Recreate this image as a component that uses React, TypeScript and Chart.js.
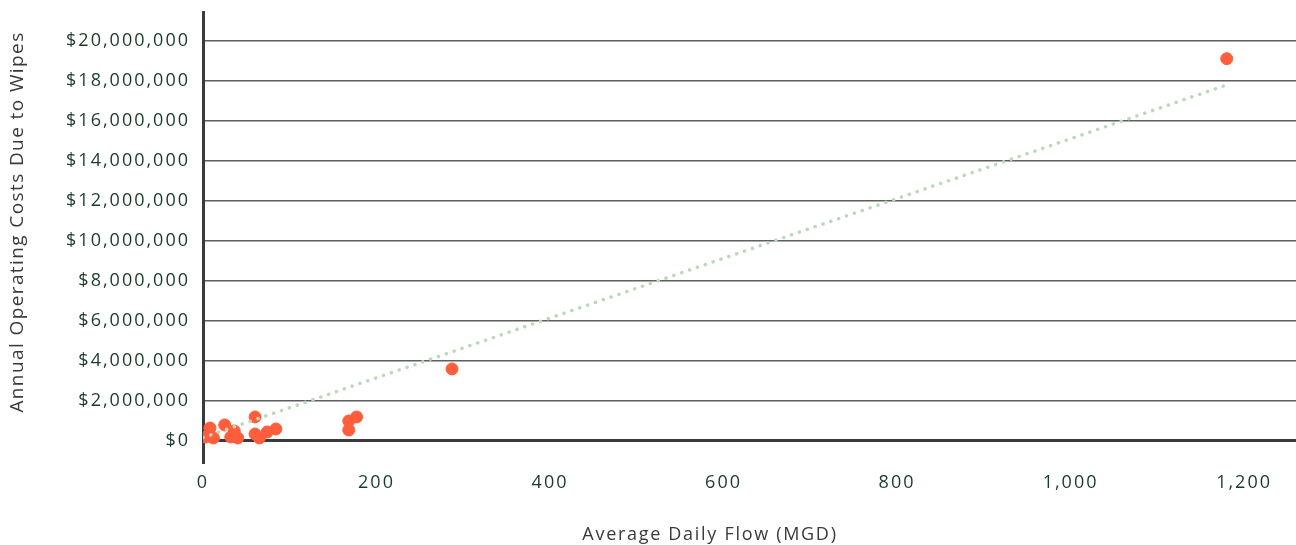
import React, { useEffect, useRef } from "react";
import { Chart, registerables } from "chart.js";

Chart.register(...registerables);

// Average daily flow (MGD) per utility
const flows = [3, 8, 12, 25, 32, 36, 40, 60, 60, 65, 74, 84, 168, 168, 177, 287, 1180];
// Annual operating costs due to wipes (USD)
const costs = [
  200000, 650000, 150000, 800000, 200000, 500000, 150000, 1200000, 350000, 150000,
  450000, 600000, 550000, 1000000, 1200000, 3600000, 19100000,
];
// Linear trend line end points
const trendX = [0, 1181];
const trendY = [170000, 17800000];

const xTicks = [0, 200, 400, 600, 800, 1000, 1200];
const yTicks = [0, 2000000, 4000000, 6000000, 8000000, 10000000, 12000000, 14000000, 16000000, 18000000, 20000000];

const xTitle = "Average Daily Flow (MGD)";
const yTitle = "Annual Operating Costs Due to Wipes";

const FONT = "'Open Sans', sans-serif";
const TICK_COLOR = "#1c3a2c";
const TITLE_COLOR = "#3a3a3a";

function zeroPadding(s: any) {
  s.paddingLeft = 0;
  s.paddingRight = 0;
  s.paddingTop = 0;
  s.paddingBottom = 0;
}

export default function App() {
  const ref = useRef<HTMLCanvasElement | null>(null);

  useEffect(() => {
    if (!ref.current) return;
    const spacingPlugin = {
      id: "letterSpacing",
      beforeUpdate(chart: any) {
        chart.ctx.letterSpacing = "2px";
      },
      beforeDraw(chart: any) {
        chart.ctx.letterSpacing = "2px";
      },
    };
    const titlePlugin = {
      id: "axisTitles",
      afterDraw(chart: any) {
        const ctx = chart.ctx;
        ctx.save();
        ctx.fillStyle = TITLE_COLOR;
        ctx.textAlign = "center";
        ctx.textBaseline = "middle";
        ctx.font = `18px ${FONT}`;
        ctx.letterSpacing = "1.7px";
        ctx.fillText(xTitle, 710, 535);
        ctx.translate(18, 222);
        ctx.rotate(-Math.PI / 2);
        ctx.font = `19px ${FONT}`;
        ctx.letterSpacing = "1.4px";
        ctx.fillText(yTitle, 0, 0);
        ctx.restore();
      },
    };
    const chart = new Chart(ref.current, {
      type: "scatter",
      data: {
        datasets: [
          {
            label: "Utilities",
            data: flows.map((f, i) => ({ x: f, y: costs[i] })),
            backgroundColor: "#ff5e3d",
            borderColor: "#ff5e3d",
            pointRadius: 6,
            pointHoverRadius: 6,
            order: 2,
          },
          {
            type: "line",
            label: "Trend",
            data: trendX.map((x, i) => ({ x, y: trendY[i] })),
            borderColor: "#b7dab9",
            borderWidth: 3.5,
            borderDash: [0.1, 8.2],
            borderCapStyle: "round",
            pointRadius: 0,
            fill: false,
            order: 1,
          } as any,
        ],
      },
      options: {
        animation: false,
        responsive: false,
        maintainAspectRatio: false,
        layout: { padding: { top: 12, right: 0, left: 0, bottom: 0 } },
        plugins: { legend: { display: false }, tooltip: { enabled: false } },
        scales: {
          x: {
            type: "linear",
            min: 0,
            max: 1261,
            afterBuildTicks: (s: any) => {
              s.ticks = xTicks.map((v) => ({ value: v }));
            },
            afterFit: (s: any) => {
              s.height = 83;
              zeroPadding(s);
            },
            grid: { display: false, drawTicks: false },
            border: { display: false },
            ticks: {
              color: TICK_COLOR,
              font: { family: FONT, size: 18 },
              padding: 10,
              maxRotation: 0,
              callback: (v: any) => Number(v).toLocaleString("en-US"),
            },
          },
          y: {
            type: "linear",
            min: -1050000,
            max: 21430000,
            afterBuildTicks: (s: any) => {
              s.ticks = yTicks.map((v) => ({ value: v }));
            },
            afterFit: (s: any) => {
              s.width = 203;
              zeroPadding(s);
            },
            grid: {
              drawTicks: false,
              color: (c: any) => (c.tick && c.tick.value === 0 ? "#3a3a3a" : "#5e5e5e"),
              lineWidth: (c: any) => (c.tick && c.tick.value === 0 ? 3 : 1.5),
            },
            border: { display: true, color: "#3a3a3a", width: 3 },
            ticks: {
              color: TICK_COLOR,
              font: { family: FONT, size: 18 },
              padding: 13,
              callback: (v: any) => "$" + Number(v).toLocaleString("en-US"),
            },
          },
        },
      },
      plugins: [spacingPlugin, titlePlugin],
    } as any);
    return () => chart.destroy();
  }, []);

  return (
    <div
      style={{
        position: "fixed",
        left: 0,
        top: 0,
        width: 1296,
        height: 545,
        overflow: "hidden",
        background: "#fff",
      }}
    >
      <canvas ref={ref} width={1304} height={545} style={{ width: 1304, height: 545 }} />
    </div>
  );
}
